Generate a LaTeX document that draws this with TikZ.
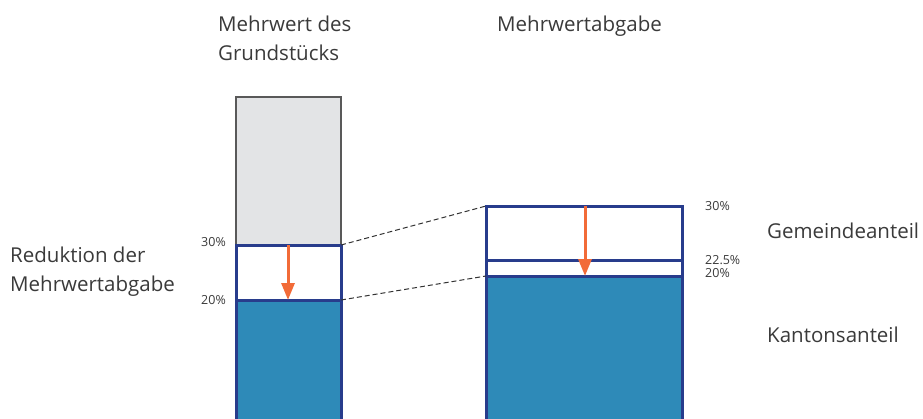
\documentclass[tikz,border=0pt]{standalone}
\usepackage{fontspec}
\setmainfont{Open Sans}
\usetikzlibrary{arrows.meta}
\definecolor{barblue}{HTML}{2E8AB8}
\definecolor{navy}{HTML}{283C8C}
\definecolor{lightgray}{HTML}{E3E4E6}
\definecolor{orng}{HTML}{F26B38}
\definecolor{txt}{HTML}{3A3A3A}
\begin{document}
\begin{tikzpicture}[x=1pt,y=-1pt,
  bigtxt/.style={font=\fontsize{20.5}{29}\selectfont, text=txt, inner sep=0pt, anchor=base west},
  pct/.style={font=\fontsize{12.5}{13}\selectfont, text=txt, inner sep=0pt},
  navyline/.style={draw=navy, line width=3pt},
  reduce/.style={draw=orng, line width=3pt, -{Triangle[width=13pt,length=17pt]}},
  link/.style={dash pattern=on 5pt off 3pt, line width=1pt, black!80}]
\useasboundingbox (0,0) rectangle (923,418);
% left bar
\coordinate (LT) at (236,97);
\coordinate (L30) at (236,245);
\coordinate (R30) at (341,245);
\coordinate (L20) at (236,300);
\coordinate (R20) at (341,300);
\coordinate (LB) at (341,425);
\fill[lightgray] (LT) rectangle (R30);
\draw[line width=1.2pt, black!65] (L30) -- (LT) -- (341,97) -- (R30);
\fill[barblue] (L20) rectangle (LB);
\draw[navyline] (236,425) -- (L30) -- (R30) -- (341,425);
\draw[navyline] (L20) -- (R20);
\coordinate (LA1) at (288,245);
\coordinate (LA2) at (288,300);
\draw[reduce] (LA1) -- (LA2);
% right bar
\coordinate (P30) at (486,206);
\coordinate (Q30) at (682,206);
\coordinate (P225) at (486,260);
\coordinate (Q225) at (682,260);
\coordinate (P20) at (486,276);
\coordinate (Q20) at (682,276);
\fill[barblue] (P20) rectangle (682,425);
\draw[navyline] (486,425) -- (P30) -- (Q30) -- (682,425);
\draw[navyline] (P225) -- (Q225);
\draw[navyline] (P20) -- (Q20);
\coordinate (RA1) at (585,206);
\coordinate (RA2) at (585,276);
\draw[reduce] (RA1) -- (RA2);
% dashed links
\draw[link] (R30) -- (P30);
\draw[link] (R20) -- (P20);
% labels
\node[bigtxt] (t1a) at (218,31) {Mehrwert des};
\node[bigtxt] (t1b) at (218,60) {Grundstücks};
\node[bigtxt] (t2) at (497,31) {Mehrwertabgabe};
\node[bigtxt] (t3a) at (10,262) {Reduktion der};
\node[bigtxt] (t3b) at (10,291) {Mehrwertabgabe};
\node[bigtxt] (t4) at (767,238) {Gemeindeanteil};
\node[bigtxt] (t5) at (767,342) {Kantonsanteil};
\node[pct, anchor=base east] (p1) at (226,246) {30\%};
\node[pct, anchor=base east] (p2) at (226,304) {20\%};
\node[pct, anchor=base west] (p3) at (705,210) {30\%};
\node[pct, anchor=base west] (p4) at (705,264) {22.5\%};
\node[pct, anchor=base west] (p5) at (705,277) {20\%};
\end{tikzpicture}
\end{document}
